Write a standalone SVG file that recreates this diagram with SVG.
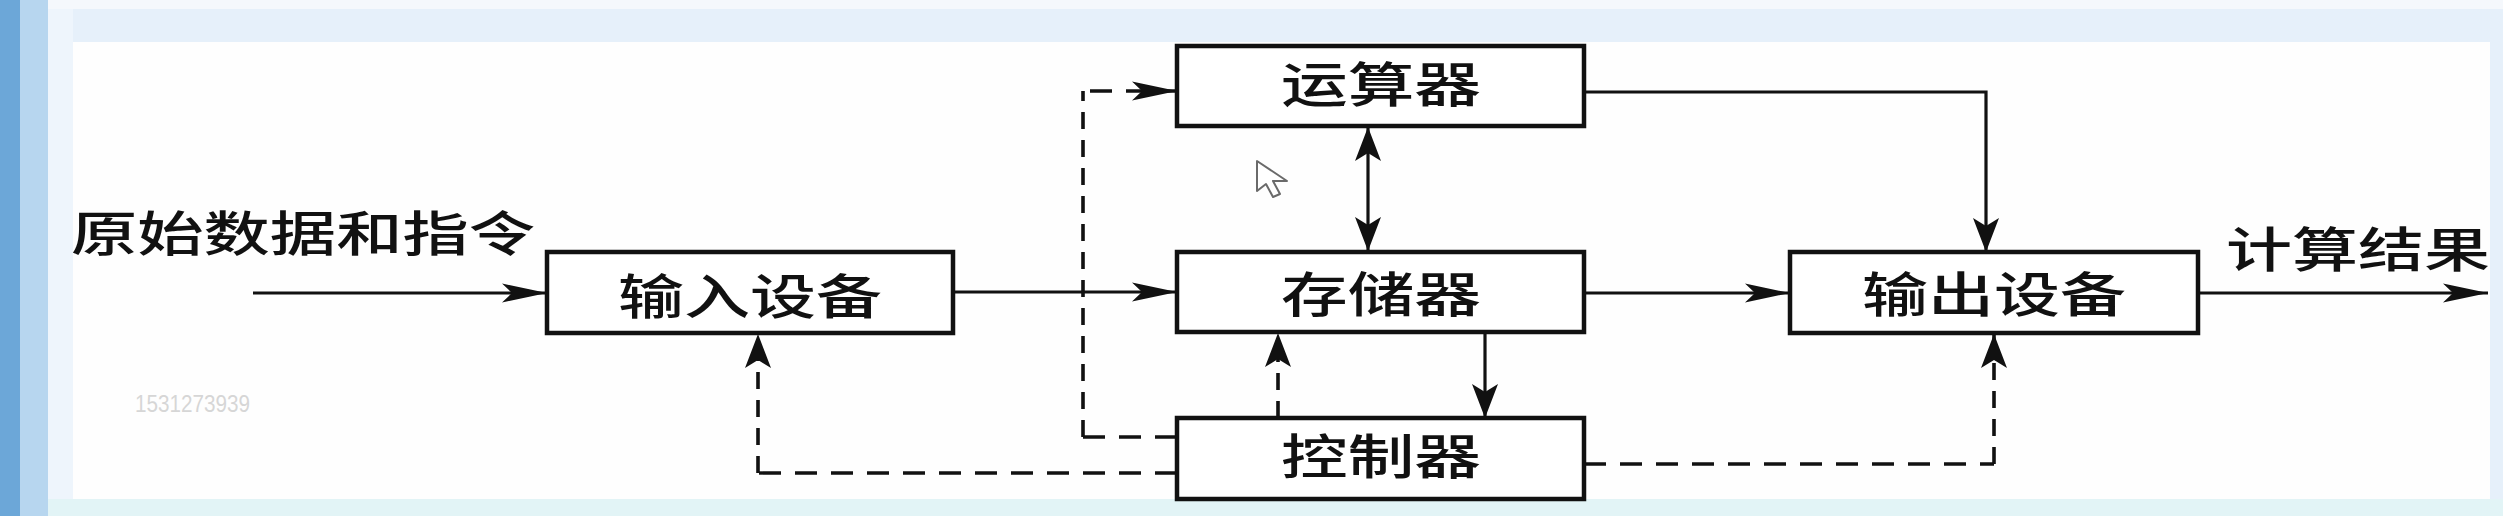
<svg xmlns="http://www.w3.org/2000/svg" width="2503" height="516" viewBox="0 0 2503 516">
<style>
.box{fill:#ffffff;stroke:#111;stroke-width:4.5}
.lbl{font-family:"Noto Sans CJK SC","Noto Sans CJK JP",sans-serif;font-size:48px;font-weight:500;fill:#111}
.ln{fill:none;stroke:#111;stroke-width:3.2}
.dh{fill:none;stroke:#111;stroke-width:3.4;stroke-dasharray:22 14}
.dv{fill:none;stroke:#111;stroke-width:3.6;stroke-dasharray:17 11}
</style>
<defs>
<marker id="ah" markerUnits="userSpaceOnUse" viewBox="-46 -11 48 22" markerWidth="48" markerHeight="22" refX="0" refY="0" orient="auto-start-reverse">
<path d="M0,0 L-45,-9.5 L-35,0 L-45,9.5 Z" fill="#111"/>
</marker>
<marker id="av" markerUnits="userSpaceOnUse" viewBox="-35 -14 37 28" markerWidth="37" markerHeight="28" refX="0" refY="0" orient="auto-start-reverse">
<path d="M0,0 L-34,-13 L-26,0 L-34,13 Z" fill="#111"/>
</marker>
</defs>
<g id="background">
<rect x="0" y="0" width="2503" height="516" fill="#e6f0fa"/>
<rect x="0" y="0" width="2503" height="9" fill="#f5f8fc"/>
<rect x="48" y="9" width="25" height="507" fill="#eef5fc"/>
<rect x="73" y="42" width="2417" height="457" fill="#fefefe"/>
<rect x="48" y="499" width="2455" height="17" fill="#e2f4f6"/>
<rect x="0" y="0" width="20" height="516" fill="#6ca7d8"/>
<rect x="20" y="0" width="28" height="516" fill="#b7d6ef"/>
<text x="135" y="412" textLength="115" lengthAdjust="spacingAndGlyphs" font-family="Liberation Sans, Arial, sans-serif" font-size="23" fill="#d6d6d6">1531273939</text>
</g>
<g id="connectors">
<line class="ln" x1="253" y1="293" x2="547" y2="293" marker-end="url(#ah)"/>
<line class="ln" x1="953" y1="292" x2="1177" y2="292" marker-end="url(#ah)"/>
<line class="ln" x1="1584" y1="293" x2="1790" y2="293" marker-end="url(#ah)"/>
<line class="ln" x1="2198" y1="293" x2="2488" y2="293" marker-end="url(#ah)"/>
<line class="ln" x1="1368" y1="127" x2="1368" y2="251" marker-start="url(#av)" marker-end="url(#av)"/>
<line class="ln" x1="1485" y1="332" x2="1485" y2="418" marker-end="url(#av)"/>
<path class="ln" d="M1584,92 H1986 V252" marker-end="url(#av)"/>
<line class="dv" x1="1278" y1="418" x2="1278" y2="333" marker-end="url(#av)"/>
<line class="dh" x1="1177" y1="437" x2="1083" y2="437"/>
<line class="dv" x1="1083" y1="437" x2="1083" y2="91"/>
<line class="dh" x1="1090" y1="91" x2="1177" y2="91" marker-end="url(#ah)"/>
<line class="dh" x1="1177" y1="473" x2="758" y2="473"/>
<line class="dv" x1="758" y1="473" x2="758" y2="334" marker-end="url(#av)"/>
<line class="dh" x1="1584" y1="464" x2="1994" y2="464"/>
<line class="dv" x1="1994" y1="464" x2="1994" y2="334" marker-end="url(#av)"/>
</g>
<g id="label-input-data">
<text class="lbl" x="71" y="251" textLength="464" lengthAdjust="spacingAndGlyphs">原始数据和指令</text>
</g>
<g id="label-result">
<text class="lbl" x="2226" y="267" textLength="264" lengthAdjust="spacingAndGlyphs">计算结果</text>
</g>
<g id="node-input">
<rect class="box" x="547" y="252" width="406" height="81"/>
<text class="lbl" x="750" y="314" text-anchor="middle" textLength="264" lengthAdjust="spacingAndGlyphs">输入设备</text>
</g>
<g id="node-alu">
<rect class="box" x="1177" y="46" width="407" height="80"/>
<text class="lbl" x="1381" y="102" text-anchor="middle" textLength="200" lengthAdjust="spacingAndGlyphs">运算器</text>
</g>
<g id="node-memory">
<rect class="box" x="1177" y="252" width="407" height="80"/>
<text class="lbl" x="1381" y="312" text-anchor="middle" textLength="200" lengthAdjust="spacingAndGlyphs">存储器</text>
</g>
<g id="node-control">
<rect class="box" x="1177" y="418" width="407" height="81"/>
<text class="lbl" x="1381" y="474" text-anchor="middle" textLength="200" lengthAdjust="spacingAndGlyphs">控制器</text>
</g>
<g id="node-output">
<rect class="box" x="1790" y="252" width="408" height="81"/>
<text class="lbl" x="1994" y="312" text-anchor="middle" textLength="264" lengthAdjust="spacingAndGlyphs">输出设备</text>
</g>
<g id="cursor">
<path d="M1257,161 L1257,191 L1266,184 L1273,197 L1280,194 L1273,181 L1287,181 Z" fill="#ffffff" stroke="#6a6a6a" stroke-width="2" stroke-linejoin="round"/>
</g>
</svg>
